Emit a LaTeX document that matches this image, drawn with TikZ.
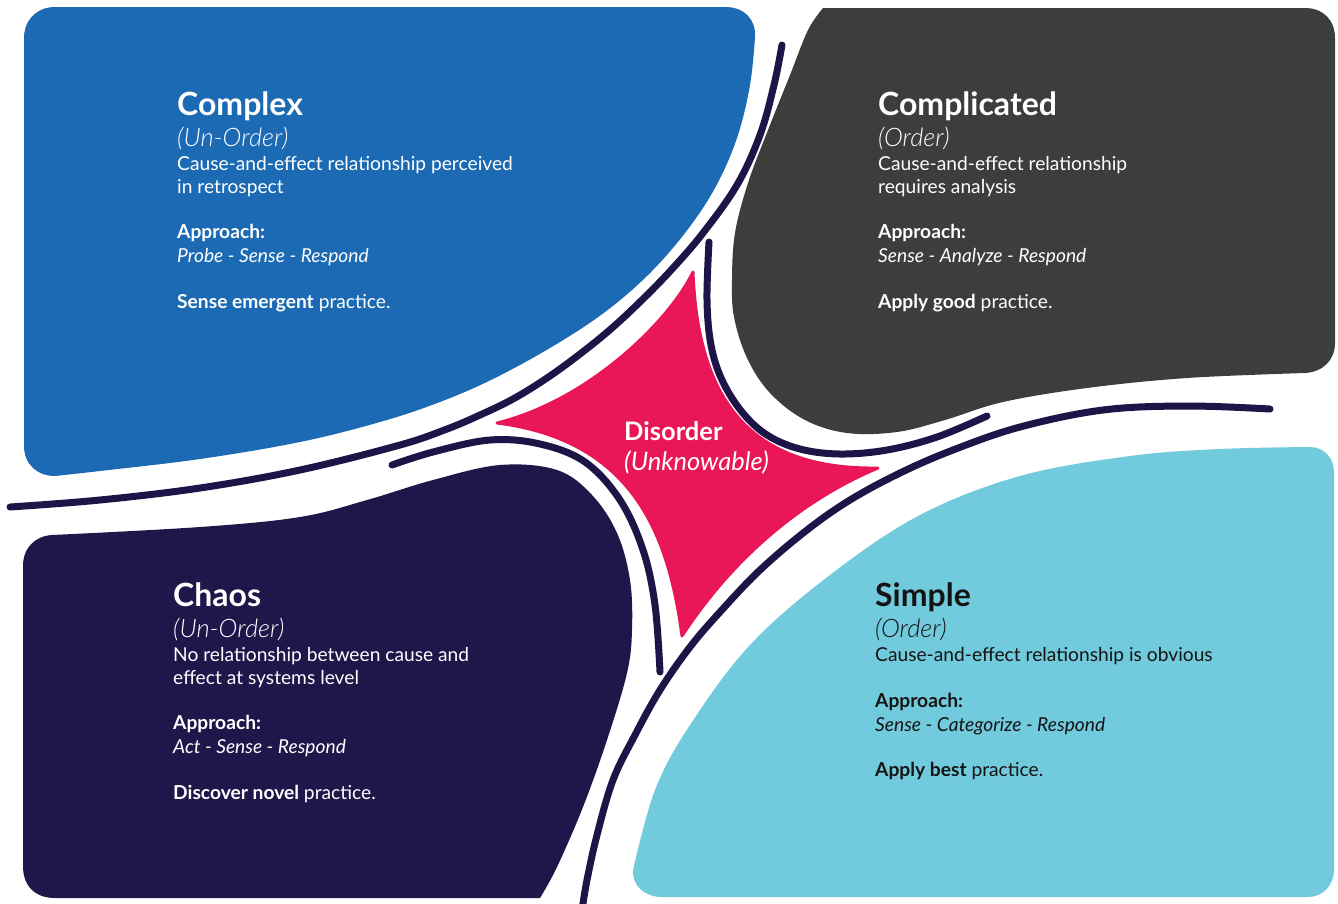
\documentclass[tikz,border=0pt]{standalone}
\usepackage{fontspec}
\setmainfont{Lato}
\newfontfamily\latolight{Lato}[UprightFont=* Light, ItalicFont=* Light Italic]
\definecolor{cBlue}{HTML}{1B6AB3}
\definecolor{cGray}{HTML}{3C3D3C}
\definecolor{cNavy}{HTML}{1E1749}
\definecolor{cPink}{HTML}{EA1758}
\definecolor{cSky}{HTML}{71CBDD}
\definecolor{cLine}{HTML}{1D1548}
\definecolor{cInk}{HTML}{141414}
\tikzset{
  sepline/.style={draw=cLine, line width=7pt, line cap=round, line join=round},
  ttl/.style={anchor=base west, inner sep=0pt, font=\fontsize{32}{32}\selectfont\bfseries},
  sub/.style={anchor=base west, inner sep=0pt, font=\latolight\fontsize{25.5}{25.5}\selectfont\itshape},
  body/.style={anchor=base west, inner sep=0pt, font=\fontsize{19.2}{24}\selectfont},
  appr/.style={anchor=base west, inner sep=0pt, font=\fontsize{19.2}{24}\selectfont\bfseries},
  meth/.style={anchor=base west, inner sep=0pt, font=\fontsize{19.2}{24}\selectfont\itshape},
  centre/.style={anchor=base west, inner sep=0pt, white, font=\fontsize{25.5}{25.5}\selectfont},
}
\begin{document}
\begin{tikzpicture}[x=1pt, y=-1pt]
\useasboundingbox (0,0) rectangle (1338,903);
\clip (0,0) rectangle (1338,903);
\fill[white] (0,0) rectangle (1338,903);

% Complex domain (top left)
\fill[cBlue] (24,446) -- (24,38) .. controls (24,20) and (37,7) .. (55,7) -- (725,7)
  .. controls (745,7) and (756,20) .. (755,37)
  -- plot[smooth, tension=0.6] coordinates {(755,37) (750,85) (737,138) (715,188) (685,233) (648,275) (605,312) (555,345) (495,378) (440,402) (380,422) (300,442) (200,459) (100,471) (55,476)}
  .. controls (37,476) and (24,464) .. (24,446) -- cycle;

% Complicated domain (top right)
\fill[cGray] (823,8) -- (1305,8) .. controls (1323,8) and (1335,20) .. (1335,38) -- (1335,343)
  .. controls (1335,360) and (1323,372) .. (1305,373)
  -- plot[smooth, tension=0.6] coordinates {(1305,373) (1187,378) (1087,388) (1003,402) (945,420) (897,432) (847,433) (805,420) (770,393) (747,358) (734,317) (732,280) (735,233) (748,183) (768,130) (790,75) (808,30) (823,8)} -- cycle;

% Simple domain (bottom right)
\fill[cSky] (1310,447) .. controls (1324,447) and (1334,458) .. (1334,472) -- (1334,870)
  .. controls (1334,885) and (1323,897) .. (1308,897) -- (662,897)
  .. controls (645,897) and (632,886) .. (633,870)
  -- plot[smooth, tension=0.6] coordinates {(633,870) (655,790) (690,725) (750,645) (830,575) (920,515) (1020,476) (1130,456) (1220,449) (1310,447)} -- cycle;

% Chaos domain (bottom left)
\fill[cNavy] (23,566) .. controls (23,548) and (35,536) .. (52,535)
  -- plot[smooth, tension=0.6] coordinates {(52,535) (200,527) (300,517) (367,500) (433,480) (500,465) (557,470) (592,495) (617,533) (630,580) (632,630) (627,673) (607,740) (583,807) (557,867) (540,898)}
  -- (55,898) .. controls (35,898) and (23,886) .. (23,866) -- cycle;

% Disorder star in the centre
\filldraw[fill=cPink, draw=cPink, line width=3pt, line join=round]
  (497,423) .. controls (590,400) and (670,320) .. (693,272)
  .. controls (698,400) and (750,470) .. (878,468)
  .. controls (790,505) and (725,570) .. (682,636)
  .. controls (668,530) and (630,440) .. (497,423) -- cycle;

% Boundary lines between the domains
\draw[sepline] plot[smooth, tension=0.6] coordinates {(782,45) (774,85) (760,135) (737,185) (703,233) (673,268) (644,298) (612,328) (580,354) (547,378) (513,399) (480,415) (447,429) (400,445) (300,470) (200,488) (100,500) (10,507)};
\draw[sepline] plot[smooth, tension=0.6] coordinates {(392,465) (433,452) (490,440) (540,444) (585,462) (620,500) (643,550) (655,605) (660,672)};
\draw[sepline] plot[smooth, tension=0.6] coordinates {(709,242) (707,300) (711,345) (722,380) (742,412) (767,435) (800,449) (840,454) (887,450) (937,437) (987,416)};
\draw[sepline] plot[smooth, tension=0.6] coordinates {(1270,409) (1187,406) (1103,410) (1020,427) (953,450) (900,473) (850,500) (807,530) (760,570) (720,612) (690,647) (660,690) (635,735) (613,780) (597,835) (587,880) (582,910)};

% Complex
\begin{scope}[white]
\node[ttl] (cxT) at (177,115) {Complex};
\node[sub] (cxS) at (177,146) {(Un-Order)};
\node[body] (cxD1) at (177,170) {Cause-and-effect relationship perceived};
\node[body] (cxD2) at (177,193) {in retrospect};
\node[appr] (cxA) at (177,238) {Approach:};
\node[meth] (cxM) at (177,262) {Probe - Sense - Respond};
\node[body] (cxP) at (177,308) {\textbf{Sense emergent} practice.};
\end{scope}

% Complicated
\begin{scope}[white]
\node[ttl] (coT) at (878,115) {Complicated};
\node[sub] (coS) at (878,146) {(Order)};
\node[body] (coD1) at (878,170) {Cause-and-effect relationship};
\node[body] (coD2) at (878,193) {requires analysis};
\node[appr] (coA) at (878,238) {Approach:};
\node[meth] (coM) at (878,262) {Sense - Analyze - Respond};
\node[body] (coP) at (878,308) {\textbf{Apply good} practice.};
\end{scope}

% Chaos
\begin{scope}[white]
\node[ttl] (chT) at (173,606) {Chaos};
\node[sub] (chS) at (173,637) {(Un-Order)};
\node[body] (chD1) at (173,661) {No relationship between cause and};
\node[body] (chD2) at (173,684) {effect at systems level};
\node[appr] (chA) at (173,729) {Approach:};
\node[meth] (chM) at (173,753) {Act - Sense - Respond};
\node[body] (chP) at (173,799) {\textbf{Discover novel} practice.};
\end{scope}

% Simple
\begin{scope}[cInk]
\node[ttl] (siT) at (875,606) {Simple};
\node[sub] (siS) at (875,637) {(Order)};
\node[body] (siD1) at (875,661) {Cause-and-effect relationship is obvious};
\node[appr] (siA) at (875,707) {Approach:};
\node[meth] (siM) at (875,731) {Sense - Categorize - Respond};
\node[body] (siP) at (875,776) {\textbf{Apply best} practice.};
\end{scope}

% Disorder
\node[centre, font=\fontsize{25.5}{25.5}\selectfont\bfseries] (doT) at (624,440) {Disorder};
\node[centre, font=\fontsize{25.5}{25.5}\selectfont\itshape] (doS) at (624,470) {(Unknowable)};
\end{tikzpicture}
\end{document}
